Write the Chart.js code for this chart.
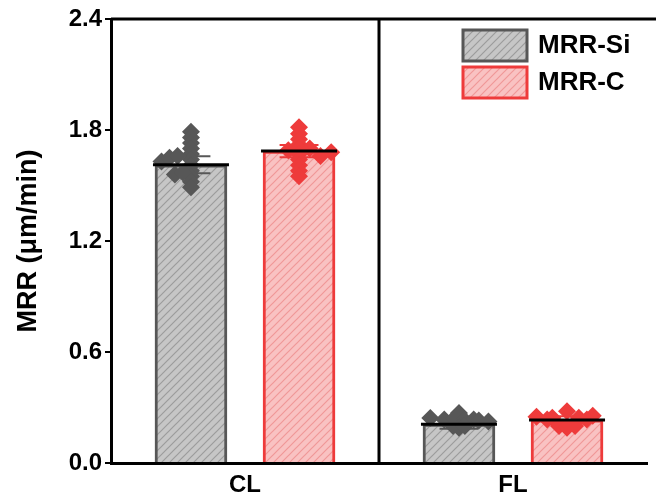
<!DOCTYPE html>
<html>
<head>
<meta charset="utf-8">
<script src="https://cdn.jsdelivr.net/npm/chart.js@4.4.0/dist/chart.umd.min.js"></script>
<style>
  body { margin: 0; background: #fff; }
  #wrap { width: 656px; height: 501px; }
</style>
</head>
<body>
<div id="wrap"><canvas id="chart"></canvas></div>
<script>
//Dados do gráfico
const categorias = ['CL', 'FL']
const mrrSi = [1.612, 0.21] //média MRR-Si
const mrrC = [1.686, 0.233] //média MRR-C
const desvioSi = [0.046, 0.025]
const desvioC = [0.033, 0.02]
const ticksY = [0, 0.6, 1.2, 1.8, 2.4]

//Pontos individuais (valor) e deslocamento horizontal (fração da categoria)
const siCL = [1.79, 1.76, 1.73, 1.70, 1.67, 1.64, 1.61, 1.58, 1.55, 1.52, 1.49, 1.63, 1.65, 1.66, 1.56, 1.57]
const siCLdx = [0, 0, 0, 0, 0, 0, 0, 0, 0, 0, 0, -0.11, -0.08, -0.05, -0.06, -0.03]
const siFL = [0.243, 0.235, 0.24, 0.27, 0.235, 0.235, 0.23, 0.19, 0.20, 0.20, 0.225]
const siFLdx = [-0.107, -0.055, -0.018, 0, 0.018, 0.055, 0.074, 0, -0.022, 0.022, 0.11]
const cCL = [1.815, 1.78, 1.75, 1.72, 1.70, 1.67, 1.64, 1.61, 1.58, 1.55, 1.69, 1.70, 1.68, 1.66]
const cCLdx = [0, 0, 0, 0, 0, 0, 0, 0, 0, 0, -0.04, 0.04, 0.12, 0.08]
const cFL = [0.25, 0.245, 0.28, 0.245, 0.255, 0.20, 0.19, 0.20, 0.235, 0.235]
const cFLdx = [-0.114, -0.055, 0, 0.044, 0.096, -0.03, 0, 0.03, -0.074, 0.074]

const desloc = 0.2016 //afastamento de cada barra em relação ao centro da categoria

//Hachura diagonal
const hachura = (fundo, linha) => {
    const c = document.createElement('canvas')
    c.width = 8; c.height = 8
    const g = c.getContext('2d')
    g.fillStyle = fundo
    g.fillRect(0, 0, 8, 8)
    g.strokeStyle = linha
    g.lineWidth = 1.2
    g.beginPath()
    g.moveTo(-1, 9); g.lineTo(9, -1)
    g.moveTo(-3, 3); g.lineTo(3, -3)
    g.moveTo(5, 11); g.lineTo(11, 5)
    g.stroke()
    return g.createPattern(c, 'repeat')
}
const fillSi = hachura('#c6c6c6', '#9c9c9c')
const fillC = hachura('#f9c2c2', '#f09898')
const corSi = '#575757'
const corC = '#ee3b3b'

const barras = (vals, lado) => vals.map((v, i) => ({x: i + lado * desloc, y: v}))
const pontos = (vals, dxs, cat, lado) => vals.map((v, i) => ({x: cat + lado * desloc + dxs[i], y: v}))

//Barras de erro desenhadas logo após cada conjunto de barras
const erroPlugin = {
    id: 'erro',
    afterDatasetDraw(chart, args) {
        const ds = chart.data.datasets[args.index]
        if (!ds.desvio) return
        const ctx = chart.ctx
        const y = chart.scales.y
        ctx.save()
        ctx.strokeStyle = ds.borderColor
        ctx.lineWidth = 2
        args.meta.data.forEach((bar, i) => {
            const m = ds.data[i].y, d = ds.desvio[i]
            const yt = y.getPixelForValue(m + d), yb = y.getPixelForValue(m - d)
            const w = bar.width * 0.27
            ctx.beginPath()
            ctx.moveTo(bar.x, yt); ctx.lineTo(bar.x, yb)
            ctx.moveTo(bar.x - w, yt); ctx.lineTo(bar.x + w, yt)
            ctx.moveTo(bar.x - w, yb); ctx.lineTo(bar.x + w, yb)
            ctx.stroke()
        })
        ctx.restore()
    }
}

//Linha da média, moldura, divisória e legenda
const molduraPlugin = {
    id: 'moldura',
    afterDatasetsDraw(chart) {
        const ctx = chart.ctx
        const a = chart.chartArea
        const x = chart.scales.x
        ctx.save()
        ctx.strokeStyle = '#000'
        ctx.lineWidth = 3
        chart.data.datasets.forEach((ds, k) => {
            if (!ds.desvio) return
            chart.getDatasetMeta(k).data.forEach(bar => {
                ctx.beginPath()
                ctx.moveTo(bar.x - bar.width / 2 - 2, bar.y)
                ctx.lineTo(bar.x + bar.width / 2 + 2, bar.y)
                ctx.stroke()
            })
        })
        const xm = (x.getPixelForValue(0) + x.getPixelForValue(1)) / 2
        ctx.beginPath()
        ctx.moveTo(xm, a.top); ctx.lineTo(xm, a.bottom)
        ctx.moveTo(a.left, a.top); ctx.lineTo(chart.width, a.top)
        ctx.stroke()
        ctx.restore()
    },
    afterDraw(chart) {
        const ctx = chart.ctx
        const a = chart.chartArea
        ctx.save()
        chart.data.datasets.filter(ds => ds.desvio).forEach((ds, k) => {
            const bx = a.right - 184, by = a.top + 11 + k * 37
            ctx.fillStyle = ds.backgroundColor
            ctx.fillRect(bx, by, 64, 31)
            ctx.strokeStyle = ds.borderColor
            ctx.lineWidth = 3
            ctx.strokeRect(bx, by, 64, 31)
            ctx.fillStyle = '#000'
            ctx.font = 'bold 26px Arial, "Liberation Sans"'
            ctx.textBaseline = 'middle'
            ctx.fillText(ds.label, bx + 75, by + 16)
        })
        ctx.restore()
    }
}

let ctx = document.getElementById('chart')
let chart = new Chart(ctx, {
    type: 'bar',
    data: {
        labels: categorias,
        datasets: [
            {
                label: 'MRR-Si', data: barras(mrrSi, -1), desvio: desvioSi, order: 1, xAxisID: 'x2', yAxisID: 'y',
                backgroundColor: fillSi, borderColor: corSi, borderWidth: 3, borderSkipped: 'bottom'
            },
            {
                label: 'MRR-C', data: barras(mrrC, 1), desvio: desvioC, order: 1, xAxisID: 'x2', yAxisID: 'y',
                backgroundColor: fillC, borderColor: corC, borderWidth: 3, borderSkipped: 'bottom'
            },
            {
                type: 'scatter', label: 'pts-Si', xAxisID: 'x2', yAxisID: 'y', order: 0,
                data: [...pontos(siCL, siCLdx, 0, -1), ...pontos(siFL, siFLdx, 1, -1)],
                backgroundColor: corSi, borderWidth: 0, pointStyle: 'rectRot', pointRadius: 9
            },
            {
                type: 'scatter', label: 'pts-C', xAxisID: 'x2', yAxisID: 'y', order: 0,
                data: [...pontos(cCL, cCLdx, 0, 1), ...pontos(cFL, cFLdx, 1, 1)],
                backgroundColor: corC, borderWidth: 0, pointStyle: 'rectRot', pointRadius: 9
            }
        ]
    },
    options: {
        responsive: true,
        maintainAspectRatio: false,
        animation: false,
        layout: { padding: { top: 19, right: 2, left: 0, bottom: 0 } },
        datasets: { bar: { grouped: false, barThickness: 72 } },
        plugins: { legend: { display: false }, tooltip: { enabled: false } },
        scales: {
            x: {
                type: 'category',
                offset: true,
                grid: { display: false },
                border: { display: true, color: '#000', width: 3 },
                ticks: { color: '#000', font: { family: 'Arial, "Liberation Sans"', size: 24, weight: 'bold' }, padding: 0 },
                afterFit: s => { s.height = 38 }
            },
            x2: { type: 'linear', min: -0.5, max: 1.5, offset: false, grace: 0, display: false },
            y: {
                min: 0, max: 2.4,
                afterBuildTicks: s => { s.ticks = ticksY.map(v => ({ value: v })) },
                grid: { display: true, drawOnChartArea: false, drawTicks: true, tickLength: 6, color: '#000', lineWidth: 2 },
                border: { display: true, color: '#000', width: 3 },
                ticks: {
                    color: '#000', padding: 3,
                    font: { family: 'Arial, "Liberation Sans"', size: 24, weight: 'bold' },
                    callback: v => v.toFixed(1)
                },
                title: {
                    display: true, text: 'MRR (μm/min)', color: '#000',
                    font: { family: 'Arial, "Liberation Sans"', size: 27, weight: 'bold' },
                    padding: { top: 12, bottom: 0 }
                },
                afterFit: s => { s.width = 111 }
            }
        }
    },
    plugins: [erroPlugin, molduraPlugin]
});
</script>
</body>
</html>
